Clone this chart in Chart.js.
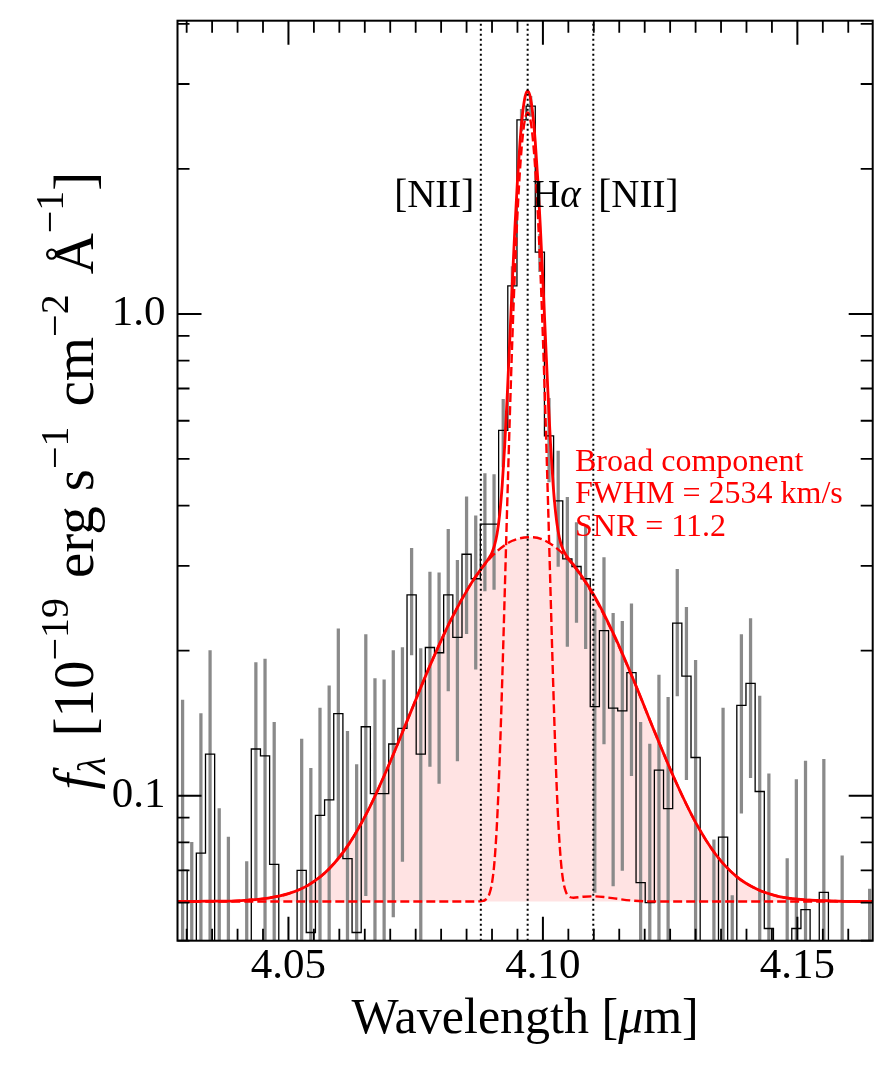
<!DOCTYPE html>
<html lang="en">
<head>
<meta charset="UTF-8">
<title>Broad H-alpha fit</title>
<script src="https://cdn.jsdelivr.net/npm/chart.js@4.4.1/dist/chart.umd.min.js"></script>
<style>
	body,html{margin:0;padding:0;background:#fff;}
	#wrap{width:891px;height:1069px;}
</style>
</head>
<body>
<div id="wrap"><canvas id="spec" width="891" height="1069"></canvas></div>
<script>
// binned spectrum: bin centres [micron], flux and 1-sigma error [1e-19 erg/s/cm2/A]
// (bins that fall below the bottom of the axis are given small placeholder fluxes)
var binWave = [4.0292, 4.0310, 4.0328, 4.0346, 4.0364, 4.0382, 4.0400, 4.0418, 4.0436, 4.0454,
	4.0472, 4.0490, 4.0508, 4.0526, 4.0544, 4.0562, 4.0580, 4.0598, 4.0616, 4.0634,
	4.0652, 4.0670, 4.0688, 4.0706, 4.0724, 4.0742, 4.0760, 4.0778, 4.0796, 4.0814,
	4.0832, 4.0850, 4.0868, 4.0886, 4.0904, 4.0922, 4.0940, 4.0958, 4.0976, 4.0994,
	4.1012, 4.1030, 4.1048, 4.1066, 4.1084, 4.1102, 4.1120, 4.1138, 4.1156, 4.1174,
	4.1192, 4.1210, 4.1228, 4.1246, 4.1264, 4.1282, 4.1300, 4.1318, 4.1336, 4.1354,
	4.1372, 4.1390, 4.1408, 4.1426, 4.1444, 4.1462, 4.1480, 4.1498, 4.1516, 4.1534,
	4.1552, 4.1570, 4.1588, 4.1606, 4.1624, 4.1642];
var binFlux = [0.070, 0.030, 0.076, 0.122, 0.030, 0.020, 0.015, 0.020, 0.125, 0.121,
	0.072, 0.015, 0.015, 0.070, 0.052, 0.091, 0.098, 0.148, 0.074, 0.052,
	0.139, 0.101, 0.101, 0.128, 0.138, 0.261, 0.122, 0.203, 0.198, 0.261,
	0.213, 0.317, 0.282, 0.366, 0.366, 0.573, 1.143, 2.527, 2.700, 1.343,
	0.558, 0.409, 0.310, 0.299, 0.282, 0.153, 0.220, 0.152, 0.150, 0.180,
	0.066, 0.060, 0.113, 0.094, 0.228, 0.177, 0.120, 0.020, 0.020, 0.082,
	0.015, 0.154, 0.171, 0.102, 0.053, 0.015, 0.020, 0.053, 0.058, 0.020,
	0.063, 0.020, 0.020, 0.015, 0.015, 0.020];
var binErr = [0.088, 0.050, 0.072, 0.078, 0.064, 0.062, 0.030, 0.053, 0.064, 0.071,
	0.070, 0.030, 0.030, 0.061, 0.062, 0.061, 0.071, 0.074, 0.062, 0.064,
	0.077, 0.074, 0.073, 0.072, 0.065, 0.065, 0.080, 0.088, 0.092, 0.096,
	0.095, 0.100, 0.099, 0.100, 0.098, 0.092, 0.110, 0.130, 0.130, 0.120,
	0.110, 0.110, 0.106, 0.070, 0.080, 0.090, 0.092, 0.087, 0.080, 0.070,
	0.076, 0.068, 0.065, 0.066, 0.067, 0.069, 0.071, 0.020, 0.061, 0.070,
	0.047, 0.062, 0.062, 0.059, 0.058, 0.030, 0.054, 0.055, 0.060, 0.025,
	0.056, 0.025, 0.055, 0.030, 0.030, 0.044];

// model curves
var continuumLevel = 0.0603;
var broadWave = [4.026, 4.030, 4.034, 4.038, 4.042, 4.046, 4.050, 4.054, 4.058, 4.062,
	4.066, 4.070, 4.074, 4.078, 4.082, 4.086, 4.090, 4.094, 4.098, 4.102,
	4.106, 4.110, 4.114, 4.118, 4.122, 4.126, 4.130, 4.134, 4.138, 4.142,
	4.146, 4.150, 4.154, 4.158, 4.162, 4.166, 4.170];
var broadFlux = [0.0603, 0.0603, 0.0604, 0.0604, 0.0607, 0.0613, 0.0626, 0.0653, 0.0705, 0.0797,
	0.0948, 0.1176, 0.1489, 0.1882, 0.2326, 0.2768, 0.3142, 0.3381, 0.3439, 0.3305,
	0.3005, 0.2595, 0.2145, 0.1717, 0.1353, 0.1075, 0.0880, 0.0754, 0.0680, 0.0640,
	0.0619, 0.0610, 0.0606, 0.0604, 0.0603, 0.0603, 0.0603];
var narrowWave = [4.026, 4.080, 4.086, 4.0880, 4.0890, 4.0895, 4.0900, 4.0905, 4.0910, 4.0915,
	4.0920, 4.0925, 4.0930, 4.0935, 4.0940, 4.0945, 4.0950, 4.0955, 4.0960, 4.0965,
	4.0970, 4.0975, 4.0980, 4.0985, 4.0990, 4.0995, 4.1000, 4.1005, 4.1010, 4.1015,
	4.1020, 4.1025, 4.1030, 4.1035, 4.1040, 4.1045, 4.1050, 4.1060, 4.1080, 4.1100,
	4.1120, 4.1140, 4.1180, 4.1220, 4.1700];
var narrowFlux = [0.0603, 0.0603, 0.0603, 0.0604, 0.0612, 0.0626, 0.0659, 0.0733, 0.0887, 0.1186,
	0.1728, 0.2640, 0.4068, 0.6141, 0.8915, 1.232, 1.613, 1.992, 2.320, 2.541,
	2.620, 2.541, 2.320, 1.992, 1.613, 1.232, 0.8916, 0.6142, 0.4070, 0.2643,
	0.1731, 0.1190, 0.0891, 0.0738, 0.0664, 0.0632, 0.0619, 0.0614, 0.0617, 0.0618,
	0.0616, 0.0612, 0.0605, 0.0603, 0.0603];
var totalWave = [4.026, 4.030, 4.034, 4.038, 4.042, 4.046, 4.050, 4.054, 4.058, 4.062,
	4.066, 4.070, 4.074, 4.078, 4.082, 4.086, 4.0880, 4.0890, 4.0895, 4.0900,
	4.0905, 4.0910, 4.0915, 4.0920, 4.0925, 4.0930, 4.0935, 4.0940, 4.0945, 4.0950,
	4.0955, 4.0960, 4.0965, 4.0970, 4.0975, 4.0980, 4.0985, 4.0990, 4.0995, 4.1000,
	4.1005, 4.1010, 4.1015, 4.1020, 4.1025, 4.1030, 4.1035, 4.1040, 4.1045, 4.1050,
	4.1060, 4.110, 4.114, 4.118, 4.122, 4.126, 4.130, 4.134, 4.138, 4.142,
	4.146, 4.150, 4.154, 4.158, 4.162, 4.166, 4.170];
var totalFlux = [0.0603, 0.0603, 0.0604, 0.0604, 0.0607, 0.0613, 0.0626, 0.0653, 0.0705, 0.0797,
	0.0948, 0.1176, 0.1489, 0.1882, 0.2326, 0.2768, 0.2969, 0.3067, 0.3124, 0.3198,
	0.3310, 0.3500, 0.3833, 0.4407, 0.5347, 0.6802, 0.8898, 1.169, 1.512, 1.894,
	2.274, 2.603, 2.825, 2.904, 2.825, 2.604, 2.275, 1.895, 1.513, 1.171,
	0.8916, 0.6823, 0.5372, 0.4433, 0.3862, 0.3532, 0.3344, 0.3233, 0.3163, 0.3109,
	0.3016, 0.2610, 0.2154, 0.1719, 0.1353, 0.1075, 0.0880, 0.0754, 0.0680, 0.0640,
	0.0619, 0.0610, 0.0606, 0.0604, 0.0603, 0.0603, 0.0603];

// line markers
var lineWave = [4.0878, 4.0970, 4.1099];
var lineSide = ['right', 'left', 'left'];
var lineLabelY = 1.67;
var broadText = ['Broad component', 'FWHM = 2534 km/s', 'SNR = 11.2'];
var broadTextAt = [4.1063, 0.473];

// axes
var xMin = 4.0282, xMax = 4.1648;
var yMin = 0.05, yMax = 4.06;
var xTicks = [4.030, 4.035, 4.040, 4.045, 4.050, 4.055, 4.060, 4.065, 4.070, 4.075, 4.080, 4.085, 4.090,
	4.095, 4.100, 4.105, 4.110, 4.115, 4.120, 4.125, 4.130, 4.135, 4.140, 4.145, 4.150, 4.155, 4.160];
var xMajor = [4.05, 4.10, 4.15];
var xMajorLabels = ['4.05', '4.10', '4.15'];
var yTicks = [0.05, 0.06, 0.07, 0.08, 0.09, 0.1, 0.2, 0.3, 0.4, 0.5, 0.6, 0.7, 0.8, 0.9, 1, 2, 3, 4];
var yMajor = [0.1, 1.0];
var yMajorLabels = ['0.1', '1.0'];

var SERIF = "'Liberation Serif', 'DejaVu Serif', serif";

function pts(xs, ys){
	return xs.map(function(x, i){ return {x: x, y: ys[i]}; });
}
function findMajor(v, majors){
	for (var i = 0; i < majors.length; i++) {
		if (Math.abs(v - majors[i]) < 1e-6) return i;
	}
	return -1;
}
// draws a row of text pieces (different fonts / raised or lowered), r.gap adds space before a piece
function drawRuns(ctx, runs, x0, y0, align){
	var total = 0;
	runs.forEach(function(r){ ctx.font = r.font; r.w = ctx.measureText(r.t).width + (r.gap || 0); total += r.w; });
	var x = align === 'center' ? x0 - total / 2 : (align === 'right' ? x0 - total : x0);
	runs.forEach(function(r){ ctx.font = r.font; ctx.fillText(r.t, x + (r.gap || 0), y0 + (r.dy || 0)); x += r.w; });
}

// inward tick marks on all four sides plus the frame
var frameTicks = {
	id: 'frameTicks',
	afterDatasetsDraw: function(chart){
		var ctx = chart.ctx, a = chart.chartArea, xs = chart.scales.x, ys = chart.scales.y;
		ctx.save();
		ctx.strokeStyle = '#000';
		ctx.lineCap = 'butt';
		xs.ticks.forEach(function(t){
			var px = xs.getPixelForValue(t.value);
			var major = findMajor(t.value, xMajor) >= 0;
			var len = major ? 24 : 12;
			ctx.lineWidth = major ? 2 : 1.8;
			ctx.beginPath();
			ctx.moveTo(px, a.bottom); ctx.lineTo(px, a.bottom - len);
			ctx.moveTo(px, a.top); ctx.lineTo(px, a.top + len);
			ctx.stroke();
		});
		ys.ticks.forEach(function(t){
			var py = ys.getPixelForValue(t.value);
			var major = findMajor(t.value, yMajor) >= 0;
			var len = major ? 24 : 12;
			ctx.lineWidth = major ? 2 : 1.8;
			ctx.beginPath();
			ctx.moveTo(a.left, py); ctx.lineTo(a.left + len, py);
			ctx.moveTo(a.right, py); ctx.lineTo(a.right - len, py);
			ctx.stroke();
		});
		ctx.lineWidth = 2;
		ctx.strokeRect(a.left, a.top, a.right - a.left, a.bottom - a.top);
		ctx.restore();
	}
};

// axis titles and annotations
var labels = {
	id: 'labels',
	afterDraw: function(chart){
		var ctx = chart.ctx, a = chart.chartArea, xs = chart.scales.x, ys = chart.scales.y;
		ctx.save();
		ctx.fillStyle = '#000';
		ctx.textBaseline = 'alphabetic';
		ctx.textAlign = 'left';

		drawRuns(ctx, [
			{t: 'Wavelength [', font: '50px ' + SERIF},
			{t: 'μ', font: 'italic 50px ' + SERIF},
			{t: 'm]', font: '50px ' + SERIF}
		], (a.left + a.right) / 2, 1033, 'center');

		ctx.save();
		ctx.translate(93, (a.top + a.bottom) / 2);
		ctx.rotate(-Math.PI / 2);
		var big = '57px ' + SERIF, small = '40px ' + SERIF;
		drawRuns(ctx, [
			{t: 'f', font: 'italic 57px ' + SERIF},
			{t: 'λ', font: 'italic 40px ' + SERIF, dy: 12},
			{t: '[10', font: big, gap: 20},
			{t: '−19', font: small, dy: -25},
			{t: 'erg', font: big, gap: 20},
			{t: 's', font: big, gap: 15},
			{t: '−1', font: small, dy: -25},
			{t: 'cm', font: big, gap: 20},
			{t: '−2', font: small, dy: -25},
			{t: 'Å', font: big, gap: 20},
			{t: '−1', font: small, dy: -30},
			{t: ']', font: big}
		], 0, 0, 'center');
		ctx.restore();

		var ly = ys.getPixelForValue(lineLabelY);
		lineWave.forEach(function(w, i){
			var px = xs.getPixelForValue(w);
			if (i === 1) {
				drawRuns(ctx, [
					{t: 'H', font: '39px ' + SERIF},
					{t: 'α', font: 'italic 39px ' + SERIF}
				], px + 4.5, ly, 'left');
			} else {
				ctx.font = '39px ' + SERIF;
				ctx.textAlign = lineSide[i];
				ctx.fillText('[NII]', lineSide[i] === 'right' ? px - 6.5 : px + 5, ly);
				ctx.textAlign = 'left';
			}
		});

		ctx.fillStyle = '#ff0000';
		ctx.font = '32px ' + SERIF;
		var bx = xs.getPixelForValue(broadTextAt[0]);
		var by = ys.getPixelForValue(broadTextAt[1]);
		broadText.forEach(function(s, i){
			ctx.fillText(s, bx, by + i * 32.7);
		});
		ctx.restore();
	}
};

var datasets = [];
lineWave.forEach(function(w){
	datasets.push({
		type: 'line', data: [{x: w, y: yMin}, {x: w, y: yMax}],
		borderColor: '#000', borderWidth: 2, borderDash: [2, 3],
		pointRadius: 0, fill: false, order: 0
	});
});
datasets.push({
	type: 'line', label: 'total', data: pts(totalWave, totalFlux),
	borderColor: '#ff0000', borderWidth: 2.8, pointRadius: 0,
	cubicInterpolationMode: 'monotone', fill: false, order: 1
});
datasets.push({
	type: 'line', label: 'narrow', data: pts(narrowWave, narrowFlux),
	borderColor: '#ff0000', borderWidth: 2.4, borderDash: [9, 4], pointRadius: 0,
	cubicInterpolationMode: 'monotone', fill: false, order: 2
});
datasets.push({
	type: 'line', label: 'broad', data: pts(broadWave, broadFlux),
	borderColor: '#ff0000', borderWidth: 2.4, borderDash: [9, 4], pointRadius: 0,
	backgroundColor: 'rgba(255,0,0,0.11)', fill: {value: continuumLevel},
	cubicInterpolationMode: 'monotone', order: 3
});
datasets.push({
	type: 'line', label: 'data', data: pts(binWave, binFlux), stepped: 'middle',
	borderColor: '#000', borderWidth: 1.3, pointRadius: 0, fill: false, order: 4
});
datasets.push({
	type: 'bar', label: 'error',
	data: binWave.map(function(w, i){
		return {x: w, y: [Math.max(binFlux[i] - binErr[i], 0.001), binFlux[i] + binErr[i]]};
	}),
	backgroundColor: '#8a8a8a', barThickness: 2.6, grouped: false, order: 5
});

var ctx = document.getElementById('spec').getContext('2d');
var chart = new Chart(ctx, {
	type: 'line',
	data: {datasets: datasets},
	options: {
		responsive: false,
		animation: false,
		events: [],
		layout: {padding: {top: 20.7, right: 18.3, left: 0, bottom: 0}},
		plugins: {
			legend: {display: false},
			tooltip: {enabled: false},
			filler: {drawTime: 'beforeDatasetsDraw'}
		},
		scales: {
			x: {
				type: 'linear', min: xMin, max: xMax, offset: false,
				grid: {display: false, drawTicks: false}, border: {display: false},
				ticks: {
					autoSkip: false, maxRotation: 0, padding: 0, color: '#000',
					font: {family: SERIF, size: 43},
					callback: function(v){ var i = findMajor(v, xMajor); return i >= 0 ? xMajorLabels[i] : ''; }
				},
				afterBuildTicks: function(s){ s.ticks = xTicks.map(function(v){ return {value: v}; }); },
				// fixed axis height; no extra edge padding for the labels
				afterFit: function(s){ s.height = 128.3; s.paddingLeft = 0; s.paddingRight = 0; }
			},
			y: {
				type: 'logarithmic', min: yMin, max: yMax,
				grid: {display: false, drawTicks: false}, border: {display: false},
				ticks: {
					autoSkip: false, padding: 12, color: '#000',
					font: {family: SERIF, size: 43},
					callback: function(v){ var i = findMajor(v, yMajor); return i >= 0 ? yMajorLabels[i] : ''; }
				},
				afterBuildTicks: function(s){ s.ticks = yTicks.map(function(v){ return {value: v}; }); },
				afterFit: function(s){ s.width = 177.5; s.paddingTop = 0; s.paddingBottom = 0; }
			}
		}
	},
	plugins: [frameTicks, labels]
});
</script>
</body>
</html>
